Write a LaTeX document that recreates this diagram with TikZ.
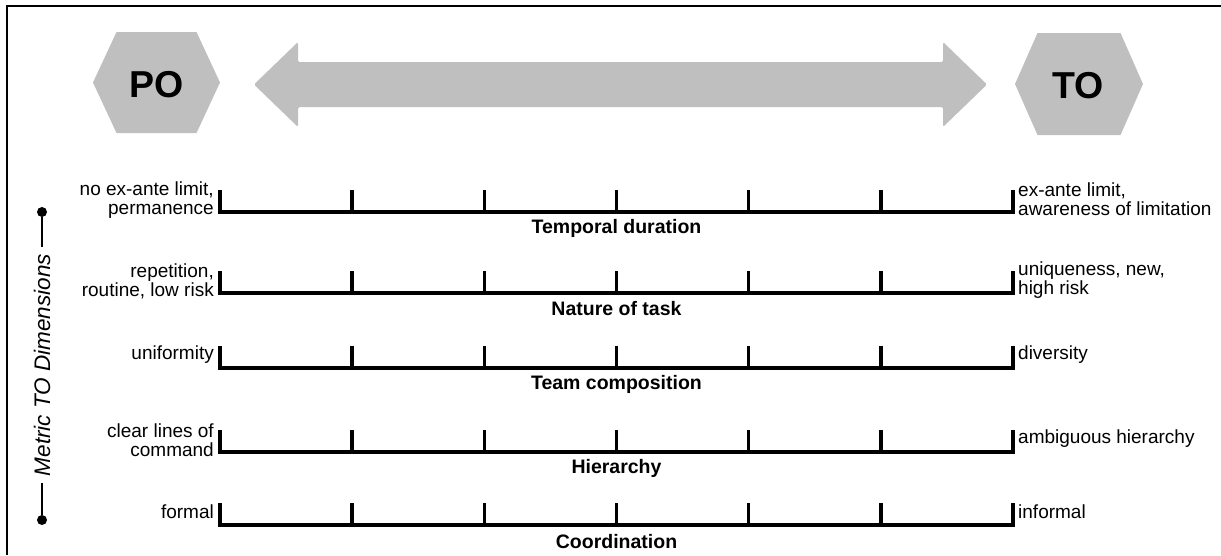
\documentclass[tikz,border=0pt]{standalone}
\usepackage{fontspec}
\setmainfont{Liberation Sans}
\definecolor{hexgray}{HTML}{BFBFBF}
\begin{document}
\begin{tikzpicture}[
    x=1pt, y=-1pt,
    hexa/.style={fill=hexgray, draw=none},
    pole/.style={font=\fontsize{37.5}{37.5}\selectfont\bfseries, inner sep=0pt},
    bar/.style={draw=black, line width=3.5pt, line join=miter},
    endlabel/.style={font=\fontsize{19}{19}\selectfont, inner sep=0pt},
    dimlabel/.style={font=\fontsize{19.5}{19.5}\selectfont\bfseries, inner sep=0pt},
    axislabel/.style={font=\fontsize{22.5}{22.5}\selectfont\itshape, rotate=90, inner xsep=7pt, inner ysep=0pt},
    dot/.style={circle, fill=black, inner sep=0pt, minimum size=10pt},
    axis/.style={draw=black, line width=2pt}]

    \useasboundingbox (0,0) rectangle (1221,555);
    \draw[line width=2pt] (7,555) -- (7,6) -- (1221,6);

    % poles and double arrow
    \fill[hexa] (93,82.5) -- (116.5,32) -- (196.5,32) -- (220,82.5) -- (196.5,133) -- (116.5,133) -- cycle;
    \node[pole] (po) at (156.5,85) {PO};

    \fill[hexa] (1015,84) -- (1037.5,33) -- (1120.5,33) -- (1143,84) -- (1120.5,135) -- (1037.5,135) -- cycle;
    \node[pole] (to) at (1078,86) {TO};

    \fill[hexa, rounded corners=1.5pt] (254,84.5) -- (298,42) -- (298,62) -- (943,62) -- (943,42)
        -- (987,84.5) -- (943,127) -- (943,107) -- (298,107) -- (298,127) -- cycle;

    % vertical axis
    \node[dot] (axtop) at (42,212) {};
    \node[dot] (axbot) at (42,520) {};
    \node[axislabel] (metric) at (42,365) {Metric TO Dimensions};
    \draw[axis] (axtop) -- (metric.east);
    \draw[axis] (metric.west) -- (axbot);

    % temporal duration
    \draw[bar] (220,190) -- (220,212) -- (1013,212) -- (1013,190);
    \foreach \x in {352.2,484.3,616.5,748.7,880.8} \draw[bar] (\x,190) -- (\x,212);
    \node[endlabel, anchor=east, align=right] (td-po) at (214,200) {no ex-ante limit,\\permanence};
    \node[endlabel, anchor=west, align=left] (td-to) at (1018,199) {ex-ante limit,\\awareness of limitation};
    \node[dimlabel] (td) at (616.5,228) {Temporal duration};

    % nature of task
    \draw[bar] (220,271) -- (220,293) -- (1013,293) -- (1013,271);
    \foreach \x in {352.2,484.3,616.5,748.7,880.8} \draw[bar] (\x,271) -- (\x,293);
    \node[endlabel, anchor=east, align=right] (nt-po) at (214,281) {repetition,\\routine, low risk};
    \node[endlabel, anchor=west, align=left] (nt-to) at (1018,280) {uniqueness, new,\\high risk};
    \node[dimlabel] (nt) at (616.5,309) {Nature of task};

    % team composition
    \draw[bar] (220,346) -- (220,368) -- (1013,368) -- (1013,346);
    \foreach \x in {352.2,484.3,616.5,748.7,880.8} \draw[bar] (\x,346) -- (\x,368);
    \node[endlabel, anchor=east] (tc-po) at (214,355) {uniformity};
    \node[endlabel, anchor=west] (tc-to) at (1018,355) {diversity};
    \node[dimlabel] (tc) at (616.5,384) {Team composition};

    % hierarchy
    \draw[bar] (220,430) -- (220,452) -- (1013,452) -- (1013,430);
    \foreach \x in {352.2,484.3,616.5,748.7,880.8} \draw[bar] (\x,430) -- (\x,452);
    \node[endlabel, anchor=east, align=right] (hi-po) at (214,440) {clear lines of\\command};
    \node[endlabel, anchor=west] (hi-to) at (1018,439) {ambiguous hierarchy};
    \node[dimlabel] (hi) at (616.5,468) {Hierarchy};

    % coordination
    \draw[bar] (220,503) -- (220,525) -- (1013,525) -- (1013,503);
    \foreach \x in {352.2,484.3,616.5,748.7,880.8} \draw[bar] (\x,503) -- (\x,525);
    \node[endlabel, anchor=east] (co-po) at (214,512) {formal};
    \node[endlabel, anchor=west] (co-to) at (1018,512) {informal};
    \node[dimlabel] (co) at (616.5,542) {Coordination};
  \end{tikzpicture}
\end{document}
